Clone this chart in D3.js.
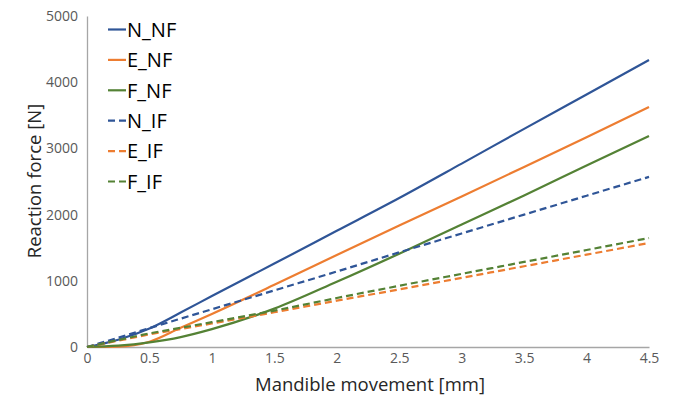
<!DOCTYPE html>
<html>
<head>
<meta charset="utf-8">
<script src="https://d3js.org/d3.v7.min.js"></script>
<style>
body{margin:0;background:#fff}
text{font-family:"Open Sans",sans-serif}
</style>
</head>
<body>
<div id="chart"></div>
<script>
// mandible movement [mm]
var xs = [0, 0.25, 0.5, 0.75, 1, 1.5, 2, 2.5, 3, 3.5, 4, 4.5]

// reaction force [N]
var N_NF = [0, 110, 280, 520, 770, 1260, 1755, 2250, 2770, 3295, 3815, 4335]
var E_NF = [0, 5, 80, 290, 500, 940, 1390, 1835, 2275, 2720, 3170, 3625]
var F_NF = [0, 20, 70, 150, 270, 580, 985, 1410, 1850, 2290, 2740, 3187]
var N_IF = [0, 140, 285, 428, 570, 855, 1140, 1430, 1715, 2000, 2285, 2570]
var E_IF = [0, 95, 190, 272, 355, 525, 700, 870, 1045, 1220, 1395, 1571]
var F_IF = [0, 105, 205, 290, 375, 550, 740, 925, 1105, 1285, 1465, 1646]

var seriesNames = ["N_NF", "E_NF", "F_NF", "N_IF", "E_IF", "F_IF"]
var seriesValues = [N_NF, E_NF, F_NF, N_IF, E_IF, F_IF]
var seriesColors = ["#2f5597", "#ed7d31", "#548235", "#2f5597", "#ed7d31", "#548235"]
var seriesDashed = [false, false, false, true, true, true]

var xTicks = [0, 0.5, 1, 1.5, 2, 2.5, 3, 3.5, 4, 4.5]
var yTicks = [0, 1000, 2000, 3000, 4000, 5000]

var W = 673, H = 399
var margin = {top: 16, right: 24, bottom: 52, left: 87}

var svg = d3.select("#chart").append("svg").attr("width", W).attr("height", H)

var x = d3.scaleLinear().domain([0, 4.5]).range([margin.left, W - margin.right])
var y = d3.scaleLinear().domain([0, 5000]).range([H - margin.bottom, margin.top])

// y axis
var yAxis = svg.append("g")
	.attr("transform", "translate(" + margin.left + ",0)")
	.call(d3.axisLeft(y).tickValues(yTicks).tickSize(0).tickPadding(9).tickFormat(d3.format("d")))
yAxis.select(".domain").attr("stroke", "#a6a6a6").attr("stroke-width", 1.3)
yAxis.selectAll("text").attr("font-size", "14px").attr("fill", "#595959")
	.attr("font-family", "Open Sans")

// x axis
var xAxis = svg.append("g")
	.attr("transform", "translate(0," + (H - margin.bottom) + ")")
	.call(d3.axisBottom(x).tickValues(xTicks).tickSize(0).tickPadding(6).tickFormat(d3.format("")))
xAxis.select(".domain").attr("stroke", "#a6a6a6").attr("stroke-width", 1.3)
xAxis.selectAll("text").attr("font-size", "14px").attr("fill", "#595959")
	.attr("font-family", "Open Sans")

// axis titles
svg.append("text")
	.text("Mandible movement [mm]")
	.attr("x", 370).attr("y", 391)
	.attr("text-anchor", "middle")
	.attr("font-size", "18.5px")
	.attr("fill", "#262626")

svg.append("text")
	.text("Reaction force [N]")
	.attr("transform", "translate(41,181) rotate(-90)")
	.attr("text-anchor", "middle")
	.attr("font-size", "18.5px")
	.attr("fill", "#262626")

// lines
var line = d3.line()
	.x(function(d){ return x(d[0]) })
	.y(function(d){ return y(d[1]) })
	.curve(d3.curveMonotoneX)

var lines = svg.append("g")
seriesValues.forEach(function(vals, i){
	var pts = xs.map(function(v, j){ return [v, vals[j]] })
	lines.append("path")
		.datum(pts)
		.attr("d", line)
		.attr("fill", "none")
		.attr("stroke", seriesColors[i])
		.attr("stroke-width", 2.2)
		.attr("stroke-dasharray", seriesDashed[i] ? "7,4" : null)
})

// legend
var key = svg.append("g")
key.selectAll("line")
	.data(seriesNames)
	.enter()
	.append("line")
	.attr("x1", 108).attr("x2", 126)
	.attr("y1", function(d, i){ return 29.5 + i * 30.4 })
	.attr("y2", function(d, i){ return 29.5 + i * 30.4 })
	.attr("stroke", function(d, i){ return seriesColors[i] })
	.attr("stroke-width", 2.2)
	.attr("stroke-dasharray", function(d, i){ return seriesDashed[i] ? "7,4" : null })

key.selectAll("text")
	.data(seriesNames)
	.enter()
	.append("text")
	.text(function(d){ return d })
	.attr("x", 127)
	.attr("y", function(d, i){ return 36.7 + i * 30.4 })
	.attr("font-size", "20px")
	.attr("fill", "#000")
</script>
</body>
</html>
